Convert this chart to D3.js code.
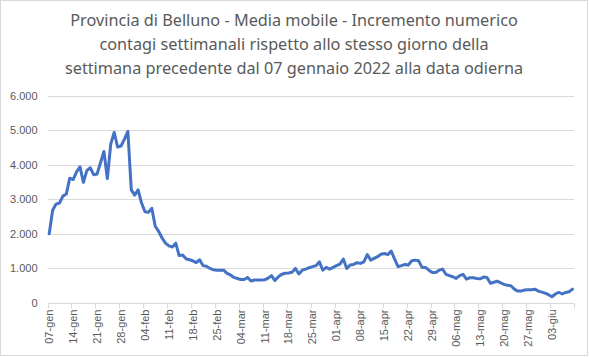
<!DOCTYPE html>
<html>
<head>
<meta charset="utf-8">
<script src="https://cdn.jsdelivr.net/npm/d3@7"></script>
<style>
  html, body { margin: 0; padding: 0; background: #fff; }
  svg { display: block; }
</style>
</head>
<body>
<svg id="chart" width="589" height="357"></svg>
<script>
const titleLines = [
  "Provincia di Belluno - Media mobile - Incremento numerico",
  "contagi settimanali rispetto allo stesso giorno della",
  "settimana precedente dal 07 gennaio 2022 alla data odierna"
];

// daily values from 07-gen-2022 to 09-giu-2022 (154 days)
const values = [
  2000, 2680, 2860, 2890, 3090, 3150, 3610, 3570, 3790, 3940,
  3490, 3830, 3910, 3710, 3730, 4060, 4380, 3600, 4600, 4930,
  4510, 4540, 4740, 4960, 3270, 3120, 3270, 2890, 2640, 2620,
  2740, 2220, 2070, 1880, 1730, 1650, 1620, 1730, 1370, 1390,
  1280, 1250, 1220, 1170, 1250, 1080, 1060, 1000, 960, 950,
  950, 950, 855, 810, 740, 710, 680, 680, 740, 635,
  665, 665, 665, 670, 720, 790, 650, 760, 830, 860,
  870, 890, 1000, 840, 950, 980, 1020, 1050, 1080, 1190,
  950, 1030, 980, 1030, 1080, 1125, 1270, 1000, 1100, 1115,
  1165, 1145, 1190, 1400, 1240, 1290, 1340, 1410, 1430, 1400,
  1500, 1270, 1050, 1080, 1115, 1100, 1220, 1240, 1220, 1030,
  1030, 950, 885, 885, 950, 980, 830, 790, 760, 710,
  790, 830, 690, 730, 730, 710, 700, 750, 735, 570,
  600, 630, 580, 540, 510, 500, 400, 345, 345, 375,
  385, 385, 400, 345, 315, 285, 240, 180, 260, 310,
  260, 305, 325, 400
];

const categories = d3.range(values.length);

const tickLabels = [
  "07-gen", "14-gen", "21-gen", "28-gen", "04-feb", "11-feb", "18-feb", "25-feb",
  "04-mar", "11-mar", "18-mar", "25-mar", "01-apr", "08-apr", "15-apr", "22-apr",
  "29-apr", "06-mag", "13-mag", "20-mag", "27-mag", "03-giu"
];
const tickEvery = 7;

const yTicks = [0, 1000, 2000, 3000, 4000, 5000, 6000];

const svg = d3.select("#chart");
const W = 589, H = 357;
const plot = { left: 47.5, right: 574.2, top: 95.5, bottom: 303 };
const textColor = "#595959";
const gridColor = "#d9d9d9";
const lineColor = "#4472C4";

// outer border
svg.append("rect")
  .attr("x", 0.5).attr("y", 0.5)
  .attr("width", W - 2).attr("height", H - 2)
  .attr("fill", "#fff").attr("stroke", "#d9d9d9");

// title
const title = svg.append("g").attr("class", "title");
const tLines = title.selectAll("text").data(titleLines).enter().append("text")
  .attr("x", 294)
  .attr("y", (d, i) => 26 + i * 24)
  .attr("text-anchor", "middle")
  .attr("fill", textColor)
  .style("font-family", "'Noto Sans', 'Open Sans', sans-serif")
  .style("font-size", "17px")
  .text(d => d);
// fit first line width to reference (~448px)
const w0 = tLines.nodes()[0].getComputedTextLength();
const fs = 17 * 448 / w0;
tLines.style("font-size", fs + "px");

// scales
const x = d3.scaleBand().domain(categories).range([plot.left, plot.right]).padding(0);
const y = d3.scaleLinear().domain([0, 6000]).range([plot.bottom, plot.top]);
const fmt = d3.formatLocale({ decimal: ",", thousands: ".", grouping: [3], currency: ["€", ""] }).format(",d");

// gridlines
svg.append("g").selectAll("line").data(yTicks.filter(d => d > 0)).enter().append("line")
  .attr("x1", plot.left).attr("x2", plot.right)
  .attr("y1", d => Math.round(y(d)) + 0.5).attr("y2", d => Math.round(y(d)) + 0.5)
  .attr("stroke", gridColor).attr("stroke-width", 1);

// y axis labels
const yAxis = svg.append("g")
  .attr("transform", `translate(${plot.left},0)`)
  .call(d3.axisLeft(y).tickValues(yTicks).tickFormat(fmt).tickSize(0).tickPadding(10));
yAxis.select(".domain").remove();
yAxis.selectAll("text")
  .attr("fill", textColor)
  .style("font-family", "'Liberation Sans', Arial, sans-serif")
  .style("font-size", "11px");

// x axis
const xTickCats = categories.filter(d => d % tickEvery === 0);
const xAxisG = svg.append("g").attr("transform", `translate(0,${Math.round(plot.bottom) + 0.5})`);
xAxisG.append("line")
  .attr("x1", plot.left).attr("x2", plot.right)
  .attr("stroke", gridColor);
const tickPos = xTickCats.map(c => x(c)).concat([plot.right]);
xAxisG.selectAll("line.tick").data(tickPos).enter().append("line")
  .attr("class", "tick")
  .attr("x1", d => Math.round(d) + 0.5).attr("x2", d => Math.round(d) + 0.5)
  .attr("y1", 0).attr("y2", 5)
  .attr("stroke", gridColor);
xAxisG.selectAll("text").data(xTickCats).enter().append("text")
  .attr("transform", c => `translate(${x(c) + x.bandwidth() / 2},6) rotate(-90)`)
  .attr("text-anchor", "end")
  .attr("dy", "0.35em")
  .attr("fill", textColor)
  .style("font-family", "'Liberation Sans', Arial, sans-serif")
  .style("font-size", "11px")
  .text((c, i) => tickLabels[i]);

// line
const line = d3.line()
  .x((d, i) => x(categories[i]) + x.bandwidth() / 2)
  .y(d => y(d));
svg.append("path")
  .datum(values)
  .attr("d", line)
  .attr("fill", "none")
  .attr("stroke", lineColor)
  .attr("stroke-width", 3)
  .attr("stroke-linejoin", "round")
  .attr("stroke-linecap", "round");
</script>
</body>
</html>
